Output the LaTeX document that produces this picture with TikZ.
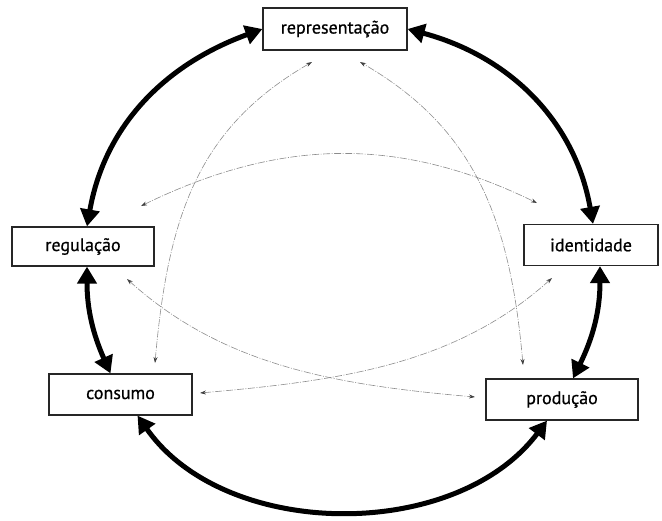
\documentclass[tikz,border=0pt]{standalone}
\usepackage{fontspec}
\setmainfont{PT Sans}
\newfontfamily\labelfont{PT Sans}[FakeBold=0.7]
\usetikzlibrary{arrows.meta}
\begin{document}
\begin{tikzpicture}[x=1pt,y=1pt,
  box/.style={draw=black!85, line width=1.2pt, fill=white, inner sep=0pt,
    font=\labelfont\fontsize{18}{21}\selectfont},
  bold/.style={line width=5pt,
    {Triangle[length=17pt,width=19pt]}-{Triangle[length=17pt,width=19pt]}},
  faint/.style={line width=0.6pt, draw=black!45,
    dash pattern=on 7pt off 1.5pt on 1pt off 1.5pt,
    {Stealth[length=6pt,width=4pt,color=black!75]}-{Stealth[length=6pt,width=4pt,color=black!75]}}
]
\useasboundingbox (0,0) rectangle (662,-520);

% the five moments of the circuit
\node[box, minimum width=144pt, minimum height=42pt] (rep)  at (335,-29)    {representação};
\node[box, minimum width=142pt, minimum height=39pt] (reg)  at (83,-246.5)  {regulação};
\node[box, minimum width=134pt, minimum height=41pt] (id)   at (591,-245)   {identidade};
\node[box, minimum width=143pt, minimum height=41pt] (cons) at (120.5,-394.5) {consumo};
\node[box, minimum width=152pt, minimum height=41pt] (prod) at (562,-399.5) {produção};

% outer circuit
\draw[bold] (rep.west) to[out=200, in=80] ([xshift=4pt]reg.north);
\draw[bold] (rep.east) to[out=-15, in=100] ([xshift=2pt]id.north);
\draw[bold] ([xshift=4pt]reg.south) to[out=-90, in=114] ([xshift=-10pt]cons.north);
\draw[bold] ([xshift=9pt]id.south) to[out=-90, in=64] ([xshift=11pt]prod.north);
\draw[bold] ([xshift=17pt]cons.south) to[out=-55, in=-127, looseness=0.95] ([xshift=-15pt]prod.south);

% free ends of the inner links
\coordinate (regA)  at (141,-206);
\coordinate (idA)   at (537,-203);
\coordinate (consA) at (155,-363);
\coordinate (repL)  at (312,-62);
\coordinate (repR)  at (360,-62);
\coordinate (prodA) at (523,-365);
\coordinate (regB)  at (127,-279);
\coordinate (prodB) at (475,-397);
\coordinate (idB)   at (552,-278);
\coordinate (consB) at (200,-393);

% inner links
\draw[faint] (regA) .. controls +(26:154) and +(154:154) .. (idA);
\draw[faint] (consA) .. controls +(85:150) and +(210:130) .. (repL);
\draw[faint] (prodA) .. controls +(95:150) and +(-30:130) .. (repR);
\draw[faint] (regB) .. controls +(-42:130) and +(175:140) .. (prodB);
\draw[faint] (idB) .. controls +(-138:130) and +(5:140) .. (consB);
\end{tikzpicture}
\end{document}
